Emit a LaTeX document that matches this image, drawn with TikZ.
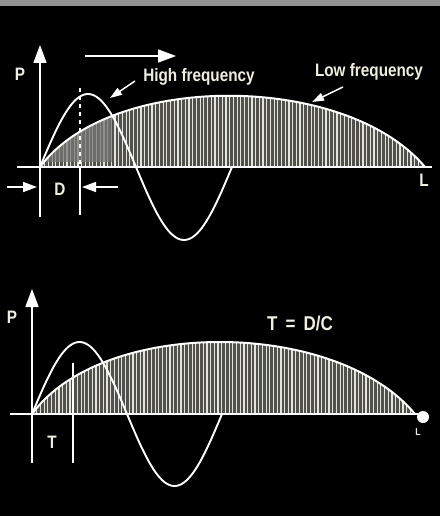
\documentclass[tikz,border=0pt]{standalone}
\usepackage{fontspec}
\usetikzlibrary{arrows.meta}
\newfontfamily\labfont[FakeStretch=0.85]{Liberation Sans}
\definecolor{txt}{RGB}{240,238,225}
\definecolor{hatchc}{RGB}{228,228,218}
\definecolor{archbg}{RGB}{80,80,76}
\definecolor{smudge}{RGB}{120,120,116}
\tikzset{
  lab/.style={text=txt,font=\labfont\bfseries\fontsize{18}{18}\selectfont,inner sep=0pt},
  smalllab/.style={text=txt,font=\labfont\bfseries\fontsize{10}{10}\selectfont,inner sep=0pt},
  axisline/.style={draw=white,line width=1.8pt},
  wave/.style={draw=white,line width=1.9pt},
  archline/.style={draw=white,line width=2pt},
  hatch/.style={draw=hatchc,line width=1.2pt},
  thinline/.style={draw=white,line width=1.5pt},
  arr/.style={draw=white,line width=1.6pt,-{Triangle[length=14pt,width=10pt]}},
  bigarr/.style={draw=white,line width=1.6pt,-{Triangle[length=18pt,width=13pt]}},
  ptr/.style={draw=white,line width=1.5pt,-{Triangle[length=12pt,width=8pt]}}
}
\begin{document}
\begin{tikzpicture}[x=1pt,y=-1pt]
\useasboundingbox (0,0) rectangle (440,516);
\fill[black] (0,0) rectangle (440,516);
\fill[gray!85] (0,0) rectangle (440,6);

% ---------------- top diagram ----------------
\begin{scope}
  \clip (40,167) .. controls (110,72) and (345,72) .. (425,167) -- cycle;
  \fill[archbg] (40,60) rectangle (425,167);
  \foreach \x in {41,44.7,...,425} \draw[hatch] (\x,60) -- (\x,170);
  \fill[smudge,opacity=0.75] (45,100) rectangle (112,162);
\end{scope}
\draw[archline] (40,167) .. controls (110,72) and (345,72) .. (425,167);

\coordinate (ta1) at (17,167);
\coordinate (ta2) at (432,167);
\draw[axisline] (ta1) -- (ta2);
\coordinate (pb1) at (40,217);
\coordinate (pt1) at (40,45);
\draw[bigarr] (pb1) -- (pt1);

\draw[wave] plot[domain=0:192,samples=90] ({40+\x},{167-73*sin(\x*1.875)});

\coordinate (dl1) at (80,88);
\coordinate (dl2) at (80,167);
\coordinate (dl3) at (80,215);
\draw[thinline,dash pattern=on 4pt off 4pt] (dl1) -- (dl2);
\draw[thinline] (dl2) -- (dl3);

\coordinate (da1) at (7,187);
\coordinate (da2) at (37,187);
\coordinate (db1) at (118,187);
\coordinate (db2) at (82,187);
\draw[arr] (da1) -- (da2);
\draw[arr] (db1) -- (db2);

\coordinate (ma1) at (85,56);
\coordinate (ma2) at (176,56);
\draw[bigarr] (ma1) -- (ma2);

\node[lab] (p1) at (20,74) {P};
\node[lab] (d1) at (60,189) {D};
\node[lab] (l1) at (424,180) {L};
\node[lab,anchor=base] (hf) at (199,82) {High frequency};
\node[lab,anchor=base] (lf) at (369,77) {Low frequency};

\coordinate (hfs) at (135,81);
\coordinate (hft) at (110,98);
\draw[ptr] (hfs) -- (hft);
\coordinate (lfs) at (343,87);
\coordinate (lft) at (312,102);
\draw[ptr] (lfs) -- (lft);

% ---------------- bottom diagram ----------------
\begin{scope}
  \clip (32,414) .. controls (102,318) and (335,318) .. (415,414) -- cycle;
  \fill[archbg] (32,300) rectangle (415,414);
  \foreach \x in {33,36.7,...,415} \draw[hatch] (\x,300) -- (\x,416);
\end{scope}
\draw[archline] (32,414) .. controls (102,318) and (335,318) .. (415,414);

\coordinate (ba1) at (10,414);
\coordinate (ba2) at (418,414);
\draw[axisline] (ba1) -- (ba2);
\coordinate (pb2) at (32,463);
\coordinate (pt2) at (32,289);
\draw[bigarr] (pb2) -- (pt2);

\draw[wave] plot[domain=0:190,samples=90] ({32+\x},{414-72*sin(\x*1.8947)});

\coordinate (tl1) at (73,363);
\coordinate (tl2) at (73,463);
\draw[thinline] (tl1) -- (tl2);

\node[circle,fill=white,minimum size=12pt,inner sep=0pt] (dot) at (423,417) {};

\node[lab] (p2) at (12,317) {P};
\node[lab] (t2) at (52,442) {T};
\node[smalllab] (l2) at (418,432) {L};
\node[lab,font=\labfont\bfseries\fontsize{20}{20}\selectfont] (eq) at (300,323) {T\hspace{8pt}=\hspace{8pt}D/C};
\end{tikzpicture}
\end{document}
